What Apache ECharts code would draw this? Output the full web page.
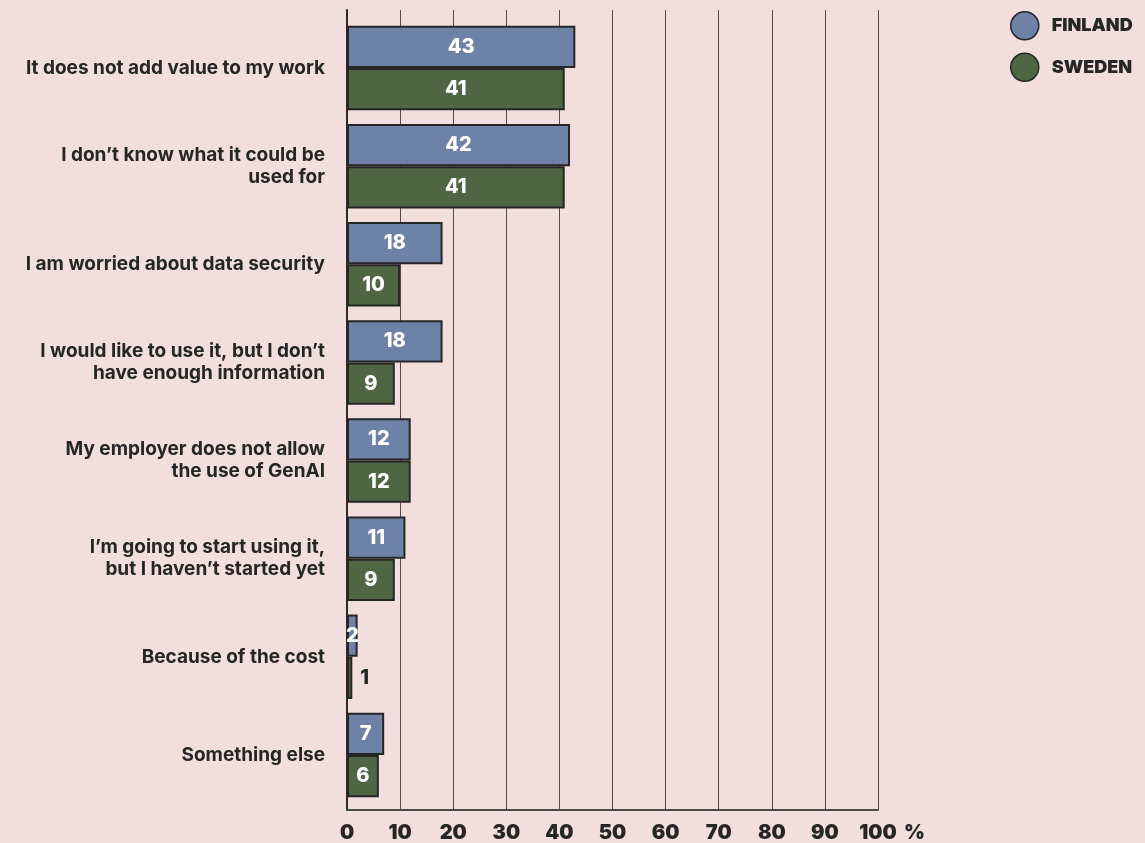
<!DOCTYPE html>
<html>
<head>
<meta charset="utf-8">
<script src="https://cdn.jsdelivr.net/npm/echarts@6/dist/echarts.min.js"></script>
<style>
  html, body { margin: 0; padding: 0; background: #f2dedc; }
  #chart { width: 1145px; height: 843px; }
</style>
</head>
<body>
<div id="chart"></div>
<script>
// Reasons for not using GenAI, share of respondents (%)
const categories = [
  'It does not add value to my work',
  'I don\u2019t know what it could be\nused for',
  'I am worried about data security',
  'I would like to use it, but I don\u2019t\nhave enough information',
  'My employer does not allow\nthe use of GenAI',
  'I\u2019m going to start using it,\nbut I haven\u2019t started yet',
  'Because of the cost',
  'Something else'
];
const finland = [43, 42, 18, 18, 12, 11, 2, 7];
const sweden = [41, 41, 10, 9, 12, 9, 1, 6];
const seriesNames = ['FINLAND', 'SWEDEN'];
const xTicks = { min: 0, max: 100, interval: 10 };

const INK = '#262626';
const FONT = 'Inter, "Noto Sans", sans-serif';

// Values too small to hold a label get it placed beside the bar
function labelled(values) {
  return values.map(v => v < 2
    ? { value: v, label: { position: 'right', color: INK, distance: 8 } }
    : v);
}

const barStyle = color => ({ color, borderColor: INK, borderWidth: 2 });
const barLabel = {
  show: true, position: 'inside', color: '#ffffff',
  fontFamily: FONT, fontWeight: 800, fontSize: 20
};

const chart = echarts.init(document.getElementById('chart'), null, { renderer: 'canvas' });
chart.setOption({
  backgroundColor: '#f2dedc',
  animation: false,
  textStyle: { fontFamily: FONT },
  legend: {
    orient: 'vertical', left: 1005, top: 6,
    icon: 'circle', itemWidth: 28, itemHeight: 28, itemGap: 12,
    itemStyle: { borderColor: INK, borderWidth: 1.5 },
    textStyle: { fontFamily: FONT, fontWeight: 900, fontSize: 18, color: INK, padding: [0, 0, 0, 8] },
    data: seriesNames
  },
  grid: [
    // frame: gridlines, value axis, category baseline
    { left: 347, width: 531, top: 10, height: 801 },
    // bars
    { left: 347, width: 531, top: 19, height: 785 }
  ],
  xAxis: [
    {
      gridIndex: 0, type: 'value', min: xTicks.min, max: xTicks.max, interval: xTicks.interval,
      axisLine: { show: true, onZero: false, lineStyle: { color: '#4a4a4a', width: 2 } },
      axisTick: { show: false },
      splitLine: { show: true, lineStyle: { color: '#4d4d4d', width: 1 } },
      axisLabel: { color: INK, fontFamily: FONT, fontWeight: 900, fontSize: 20, margin: 13 },
      name: '%', nameLocation: 'end', nameGap: 26,
      nameTextStyle: { color: INK, fontFamily: FONT, fontWeight: 900, fontSize: 20,
                       verticalAlign: 'top', padding: [13, 0, 0, 0] }
    },
    {
      gridIndex: 1, type: 'value', min: xTicks.min, max: xTicks.max, interval: xTicks.interval,
      show: false
    }
  ],
  yAxis: [
    {
      gridIndex: 0, type: 'category', data: categories, inverse: true,
      axisLine: { show: true, lineStyle: { color: '#2a2a2a', width: 2 } },
      axisTick: { show: false }, axisLabel: { show: false }, splitLine: { show: false }
    },
    {
      gridIndex: 1, type: 'category', data: categories, inverse: true,
      axisLine: { show: false }, axisTick: { show: false },
      axisLabel: {
        color: INK, fontFamily: FONT, fontWeight: 700, fontSize: 19,
        lineHeight: 22, margin: 22, align: 'right'
      }
    }
  ],
  series: [
    {
      name: seriesNames[0], type: 'bar', xAxisIndex: 1, yAxisIndex: 1,
      data: labelled(finland), itemStyle: barStyle('#6d82a6'),
      barGap: '0%', barCategoryGap: '14%', label: barLabel
    },
    {
      name: seriesNames[1], type: 'bar', xAxisIndex: 1, yAxisIndex: 1,
      data: labelled(sweden), itemStyle: barStyle('#4f6645'),
      barGap: '0%', barCategoryGap: '14%', label: barLabel
    }
  ]
});
</script>
</body>
</html>
